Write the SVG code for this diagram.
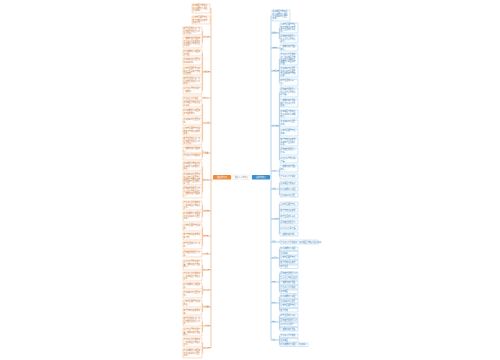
<svg xmlns="http://www.w3.org/2000/svg" width="500" height="360" viewBox="0 0 500 360">
<style>
.lb{fill:#fffdfb;stroke:#f2b98a;stroke-width:0.45}
.rb{fill:#fbfdff;stroke:#9ec9e8;stroke-width:0.45}
.lt{font-family:"Noto Sans CJK SC",sans-serif;font-size:1.85px;fill:#c8702e}
.rt{font-family:"Noto Sans CJK SC",sans-serif;font-size:1.85px;fill:#3a7db8}
.ll{font-family:"Noto Sans CJK SC",sans-serif;font-size:1.7px;fill:#c8702e}
.rl{font-family:"Noto Sans CJK SC",sans-serif;font-size:1.7px;fill:#3a7db8}
.lc{fill:none;stroke:#eea466;stroke-width:0.6}
.rc{fill:none;stroke:#7fb6de;stroke-width:0.6}
</style>
<rect width="500" height="360" fill="#ffffff"/>
<g id="connectors">
<path class="lc" d="M211 8.5V348"/>
<path class="lc" d="M210 8.5H211M210 20H211"/>
<path class="lc" d="M211 37H202.6M202.6 31V42.5"/>
<path class="lc" d="M211 72H202.6M202.6 53V90.5"/>
<path class="lc" d="M211 98H202"/>
<path class="lc" d="M211 123H202.6M202.6 104V141"/>
<path class="lc" d="M211 153H202.6M202.6 150V157"/>
<path class="lc" d="M213 180H202.6M202.6 166.5V192.5"/>
<path class="lc" d="M211 211H202.6M202.6 205.5V217"/>
<path class="lc" d="M211 236H202.6M202.6 227.5V245.5"/>
<path class="lc" d="M211 254H202"/>
<path class="lc" d="M211 270H202.6M202.6 265V276.5"/>
<path class="lc" d="M211 290H202.6M202.6 286V294.5"/>
<path class="lc" d="M211 307H202.6M202.6 303.5V312"/>
<path class="lc" d="M211 326H202.6M202.6 321.5V332"/>
<path class="lc" d="M211 348H202.6M202.6 342.5V353.5"/>
<path class="rc" d="M271 15.5V340"/>
<path class="rc" d="M270 177H271"/>
<path class="rc" d="M271 33H279.4M279.4 28V39"/>
<path class="rc" d="M271 48H280"/>
<path class="rc" d="M271 71H279.4M279.4 59V82.5"/>
<path class="rc" d="M271 126H279.4M279.4 92.5V160"/>
<path class="rc" d="M271 171H279.4M279.4 168.5V176.5"/>
<path class="rc" d="M271 189H279.4M279.4 183V195"/>
<path class="rc" d="M271 219H279.4M279.4 204V234"/>
<path class="rc" d="M271 242H280"/>
<path class="rc" d="M271 258H279.4M279.4 248.75V266.75"/>
<path class="rc" d="M271 282H279.4M279.4 273.75V291.75"/>
<path class="rc" d="M271 303H279.4M279.4 296.75V310.25"/>
<path class="rc" d="M271 322H279.4M279.4 315.75V329.25"/>
<path class="rc" d="M271 340H279.4M279.4 335.75V344.75"/>
<path d="M231 177.2H232M251 177.2H252" stroke="#cccccc" stroke-width="0.4"/>
</g>
<g id="root"><rect x="232" y="175" width="19" height="4.5" fill="#ffffff" stroke="#d6d6d6" stroke-width="0.3" rx="0.5"/><text x="241.5" y="178" text-anchor="middle" font-family="Noto Sans CJK SC,sans-serif" font-size="2" fill="#8a8a8a">温暖人心的文案</text></g>
<g id="left-main"><rect x="213" y="175" width="18" height="4.5" fill="#ee8a3b" rx="0.6"/><text x="222" y="178" text-anchor="middle" font-family="Noto Sans CJK SC,sans-serif" font-size="2" fill="#ffffff">温暖的句子</text></g>
<g id="right-main"><rect x="252" y="175" width="18" height="4.5" fill="#3d8ecc" rx="0.6"/><text x="261" y="178" text-anchor="middle" font-family="Noto Sans CJK SC,sans-serif" font-size="2" fill="#ffffff">治愈的文案</text></g>

<g id="l-labels">
<text class="ll" x="203.3" y="36.5">唯美短句</text>
<text class="ll" x="203.3" y="71.5">经典语录</text>
<text class="ll" x="203.3" y="97.5">短句子</text>
<text class="ll" x="203.3" y="122.5">心情说说</text>
<text class="ll" x="203.3" y="152.5">正能量</text>
<text class="ll" x="203.3" y="179.5">励志句子</text>
<text class="ll" x="203.3" y="210.5">温柔文案</text>
<text class="ll" x="203.3" y="235.5">朋友圈</text>
<text class="ll" x="203.3" y="253.5">小清新</text>
<text class="ll" x="203.3" y="269.5">晚安语录</text>
<text class="ll" x="203.3" y="289.5">早安心语</text>
<text class="ll" x="203.3" y="306.5">生活感悟</text>
<text class="ll" x="203.3" y="325.5">人生哲理</text>
<text class="ll" x="203.3" y="347.5">爱情语录</text>
</g>
<g id="r-labels">
<text class="rl" x="272.2" y="32.5">治愈句子</text>
<text class="rl" x="272.2" y="47.5">短文案</text>
<text class="rl" x="272.2" y="70.5">温暖语录</text>
<text class="rl" x="272.2" y="125.5">唯美文案</text>
<text class="rl" x="272.2" y="170.5">心语</text>
<text class="rl" x="272.2" y="188.5">说说</text>
<text class="rl" x="272.2" y="218.5">心情短语</text>
<text class="rl" x="272.2" y="241.5">其他</text>
<text class="rl" x="272.2" y="257.5">四字词</text>
<text class="rl" x="272.2" y="281.5">短句</text>
<text class="rl" x="272.2" y="302.5">好句</text>
<text class="rl" x="272.2" y="321.5">金句</text>
<text class="rl" x="272.2" y="339.5">结语</text>
</g>

<g id="l0a"><rect class="lb" x="192" y="4" width="18" height="9"/><text class="lt" x="192.6" y="6.2">春风拂面万物复苏<tspan x="192.6" dy="2.3">阳光明媚花开满园</tspan><tspan x="192.6" dy="2.3">岁月静好。</tspan></text></g>
<g id="l0b"><rect class="lb" x="192" y="16" width="18" height="8"/><text class="lt" x="192.6" y="18.2">心中有爱眼里有光<tspan x="192.6" dy="2.3">努力奔跑追逐梦想</tspan><tspan x="192.6" dy="2.3">未来可期。</tspan></text></g>
<g id="l1a"><rect class="lb" x="183" y="27" width="19" height="8"/><text class="lt" x="183.6" y="29.2">简单生活快乐每一天<tspan x="183.6" dy="2.3">愿你被世界温柔以待</tspan><tspan x="183.6" dy="2.3">平凡日子。</tspan></text></g>
<g id="l1b"><rect class="lb" x="183" y="37" width="19" height="11"/><text class="lt" x="183.6" y="39.2">一路繁花相伴温暖前<tspan x="183.6" dy="2.3">不忘初心方得始终如</tspan><tspan x="183.6" dy="2.3">春风拂面万物复苏生</tspan><tspan x="183.6" dy="2.3">机勃勃。</tspan></text></g>
<g id="l2a"><rect class="lb" x="183" y="50" width="19" height="6"/><text class="lt" x="183.6" y="52.2">阳光明媚花开满园芬<tspan x="183.6" dy="2.3">芳四溢。</tspan></text></g>
<g id="l2b"><rect class="lb" x="183" y="58" width="19" height="7"/><text class="lt" x="183.6" y="60.2">岁月静好时光温柔如<tspan x="183.6" dy="2.3">水静静流淌。</tspan></text></g>
<g id="l2c"><rect class="lb" x="183" y="67" width="19" height="8"/><text class="lt" x="183.6" y="69.2">心中有爱眼里有光向<tspan x="183.6" dy="2.3">前走不回头努力奔跑</tspan><tspan x="183.6" dy="2.3">追逐梦想。</tspan></text></g>
<g id="l2d"><rect class="lb" x="183" y="77" width="19" height="8"/><text class="lt" x="183.6" y="79.2">简单生活快乐每一天<tspan x="183.6" dy="2.3">愿你被世界温柔以待</tspan><tspan x="183.6" dy="2.3">着吧。</tspan></text></g>
<g id="l2e"><rect class="lb" x="183" y="87" width="19" height="7"/><text class="lt" x="183.6" y="89.2">平凡日子里的小确幸<tspan x="183.6" dy="2.3">一路繁花。</tspan></text></g>
<g id="l3a"><rect class="lb" x="183" y="96" width="19" height="4"/><text class="lt" x="183.6" y="98.6">不忘初心方得始终</text></g>
<g id="l4a"><rect class="lb" x="183" y="101" width="19" height="6"/><text class="lt" x="183.6" y="103.2">春风拂面万物复苏生<tspan x="183.6" dy="2.3">机勃勃。</tspan></text></g>
<g id="l4b"><rect class="lb" x="183" y="109" width="19" height="7"/><text class="lt" x="183.6" y="111.2">阳光明媚花开满园芬<tspan x="183.6" dy="2.3">芳四溢的季节。</tspan></text></g>
<g id="l4c"><rect class="lb" x="183" y="118" width="19" height="7"/><text class="lt" x="183.6" y="120.2">岁月静好时光温柔如<tspan x="183.6" dy="2.3">水。</tspan></text></g>
<g id="l4d"><rect class="lb" x="183" y="127" width="19" height="8"/><text class="lt" x="183.6" y="129.2">心中有爱眼里有光向<tspan x="183.6" dy="2.3">前努力奔跑追逐梦想</tspan><tspan x="183.6" dy="2.3">未来。</tspan></text></g>
<g id="l4e"><rect class="lb" x="183" y="137" width="19" height="8"/><text class="lt" x="183.6" y="139.2">简单生活快乐每一天<tspan x="183.6" dy="2.3">愿你被世界温柔以待</tspan><tspan x="183.6" dy="2.3">平凡日子。</tspan></text></g>
<g id="l5a"><rect class="lb" x="183" y="147" width="19" height="6"/><text class="lt" x="183.6" y="149.2">一路繁花相伴温暖前<tspan x="183.6" dy="2.3">行。</tspan></text></g>
<g id="l5b"><rect class="lb" x="183" y="154" width="19" height="6"/><text class="lt" x="183.6" y="156.2">不忘初心方得始终如<tspan x="183.6" dy="2.3">一。</tspan></text></g>
<g id="l6a"><rect class="lb" x="183" y="162" width="19" height="9"/><text class="lt" x="183.6" y="164.2">春风拂面万物复苏生<tspan x="183.6" dy="2.3">机勃勃阳光明媚花开</tspan><tspan x="183.6" dy="2.3">满园。</tspan></text></g>
<g id="l6b"><rect class="lb" x="183" y="173" width="19" height="12"/><text class="lt" x="183.6" y="175.2">岁月静好时光温柔如<tspan x="183.6" dy="2.3">水心中有爱眼里有光</tspan><tspan x="183.6" dy="2.3">向前努力奔跑追逐梦</tspan><tspan x="183.6" dy="2.3">想未来简单生活快乐</tspan><tspan x="183.6" dy="2.3">每一天。</tspan></text></g>
<g id="l6c"><rect class="lb" x="183" y="187" width="19" height="11"/><text class="lt" x="183.6" y="189.2">愿你被世界温柔以待<tspan x="183.6" dy="2.3">平凡日子里的小确幸</tspan><tspan x="183.6" dy="2.3">一路繁花相伴温暖前</tspan><tspan x="183.6" dy="2.3">行。</tspan></text></g>
<g id="l7a"><rect class="lb" x="183" y="201" width="19" height="9"/><text class="lt" x="183.6" y="203.2">不忘初心方得始终如<tspan x="183.6" dy="2.3">一春风拂面万物复苏</tspan><tspan x="183.6" dy="2.3">生机。</tspan></text></g>
<g id="l7b"><rect class="lb" x="183" y="212" width="19" height="10"/><text class="lt" x="183.6" y="214.2">阳光明媚花开满园芬<tspan x="183.6" dy="2.3">芳岁月静好时光温柔</tspan><tspan x="183.6" dy="2.3">如水。</tspan></text></g>
<g id="l8a"><rect class="lb" x="183" y="224" width="19" height="7"/><text class="lt" x="183.6" y="226.2">心中有爱眼里有光向<tspan x="183.6" dy="2.3">前。</tspan></text></g>
<g id="l8b"><rect class="lb" x="183" y="233" width="19" height="7"/><text class="lt" x="183.6" y="235.2">努力奔跑追逐梦想未<tspan x="183.6" dy="2.3">来可期。</tspan></text></g>
<g id="l8c"><rect class="lb" x="183" y="242" width="19" height="7"/><text class="lt" x="183.6" y="244.2">简单生活快乐每一天<tspan x="183.6" dy="2.3">呀。</tspan></text></g>
<g id="l9a"><rect class="lb" x="183" y="251" width="19" height="6"/><text class="lt" x="183.6" y="253.2">愿你被世界温柔以待<tspan x="183.6" dy="2.3">着。</tspan></text></g>
<g id="l10a"><rect class="lb" x="183" y="260" width="19" height="10"/><text class="lt" x="183.6" y="262.2">平凡日子里的小确幸<tspan x="183.6" dy="2.3">福一路繁花相伴温暖</tspan><tspan x="183.6" dy="2.3">前行。</tspan></text></g>
<g id="l10b"><rect class="lb" x="183" y="272" width="19" height="9"/><text class="lt" x="183.6" y="274.2">不忘初心方得始终如<tspan x="183.6" dy="2.3">一春风拂面万物复苏</tspan><tspan x="183.6" dy="2.3">生机。</tspan></text></g>
<g id="l11a"><rect class="lb" x="183" y="283" width="19" height="6"/><text class="lt" x="183.6" y="285.2">阳光明媚花开满园芬<tspan x="183.6" dy="2.3">芳。</tspan></text></g>
<g id="l11b"><rect class="lb" x="183" y="291" width="19" height="7"/><text class="lt" x="183.6" y="293.2">岁月静好时光温柔如<tspan x="183.6" dy="2.3">水。</tspan></text></g>
<g id="l12a"><rect class="lb" x="183" y="300" width="19" height="7"/><text class="lt" x="183.6" y="302.2">心中有爱眼里有光向<tspan x="183.6" dy="2.3">前走。</tspan></text></g>
<g id="l12b"><rect class="lb" x="183" y="309" width="19" height="6"/><text class="lt" x="183.6" y="311.2">努力奔跑追逐梦想未<tspan x="183.6" dy="2.3">来。</tspan></text></g>
<g id="l13a"><rect class="lb" x="183" y="317" width="19" height="9"/><text class="lt" x="183.6" y="319.2">简单生活快乐每一天<tspan x="183.6" dy="2.3">愿你被世界温柔以待</tspan><tspan x="183.6" dy="2.3">着。</tspan></text></g>
<g id="l13b"><rect class="lb" x="183" y="328" width="19" height="8"/><text class="lt" x="183.6" y="330.2">平凡日子里的小确幸<tspan x="183.6" dy="2.3">福一路繁花相伴温暖</tspan><tspan x="183.6" dy="2.3">前行。</tspan></text></g>
<g id="l14a"><rect class="lb" x="183" y="338" width="19" height="9"/><text class="lt" x="183.6" y="340.2">不忘初心方得始终如<tspan x="183.6" dy="2.3">一春风拂面万物复苏</tspan><tspan x="183.6" dy="2.3">生机。</tspan></text></g>
<g id="l14b"><rect class="lb" x="183" y="349" width="19" height="9"/><text class="lt" x="183.6" y="351.2">阳光明媚花开满园芬<tspan x="183.6" dy="2.3">芳岁月静好时光温柔</tspan><tspan x="183.6" dy="2.3">如水。</tspan></text></g>

<g id="r0a"><rect class="rb" x="272" y="10" width="18" height="11"/><text class="rt" x="272.6" y="12.2">春风拂面万物复苏<tspan x="272.6" dy="2.3">阳光明媚花开满园</tspan><tspan x="272.6" dy="2.3">岁月静好时光温柔</tspan><tspan x="272.6" dy="2.3">如水。</tspan></text></g>
<g id="r1a"><rect class="rb" x="280" y="23" width="18" height="10"/><text class="rt" x="280.6" y="25.2">心中有爱眼里有光<tspan x="280.6" dy="2.3">努力奔跑追逐梦想</tspan><tspan x="280.6" dy="2.3">简单生活快乐每天</tspan><tspan x="280.6" dy="2.3">呀。</tspan></text></g>
<g id="r1b"><rect class="rb" x="280" y="35" width="18" height="8"/><text class="rt" x="280.6" y="37.2">愿你被世界温柔以<tspan x="280.6" dy="2.3">待平凡日子里的小</tspan><tspan x="280.6" dy="2.3">确幸。</tspan></text></g>
<g id="r2a"><rect class="rb" x="280" y="45" width="18" height="6"/><text class="rt" x="280.6" y="47.2">一路繁花相伴温暖<tspan x="280.6" dy="2.3">前行。</tspan></text></g>
<g id="r3a"><rect class="rb" x="280" y="53" width="18" height="12"/><text class="rt" x="280.6" y="55.2">不忘初心方得始终<tspan x="280.6" dy="2.3">如一春风拂面万物</tspan><tspan x="280.6" dy="2.3">复苏生机勃勃阳光</tspan><tspan x="280.6" dy="2.3">明媚花开满园芬芳</tspan><tspan x="280.6" dy="2.3">四溢。</tspan></text></g>
<g id="r3b"><rect class="rb" x="280" y="67" width="18" height="10"/><text class="rt" x="280.6" y="69.2">岁月静好时光温柔<tspan x="280.6" dy="2.3">如水心中有爱眼里</tspan><tspan x="280.6" dy="2.3">有光向前努力奔跑</tspan><tspan x="280.6" dy="2.3">追梦。</tspan></text></g>
<g id="r3c"><rect class="rb" x="280" y="79" width="18" height="7"/><text class="rt" x="280.6" y="81.2">简单生活快乐每一<tspan x="280.6" dy="2.3">天。</tspan></text></g>
<g id="r4a"><rect class="rb" x="280" y="88" width="18" height="9"/><text class="rt" x="280.6" y="90.2">愿你被世界温柔以<tspan x="280.6" dy="2.3">待平凡日子里的小</tspan><tspan x="280.6" dy="2.3">确幸福。</tspan></text></g>
<g id="r4b"><rect class="rb" x="280" y="99" width="18" height="8"/><text class="rt" x="280.6" y="101.2">一路繁花相伴温暖<tspan x="280.6" dy="2.3">前行不忘初心方得</tspan><tspan x="280.6" dy="2.3">始终。</tspan></text></g>
<g id="r4c"><rect class="rb" x="280" y="110" width="18" height="8"/><text class="rt" x="280.6" y="112.2">春风拂面万物复苏<tspan x="280.6" dy="2.3">生机勃勃阳光明媚</tspan><tspan x="280.6" dy="2.3">花开。</tspan></text></g>
<g id="r4d"><rect class="rb" x="280" y="120" width="18" height="7"/><text class="rt" x="280.6" y="122.2">岁月静好时光温柔<tspan x="280.6" dy="2.3">如水。</tspan></text></g>
<g id="r4e"><rect class="rb" x="280" y="129" width="18" height="7"/><text class="rt" x="280.6" y="131.2">心中有爱眼里有光<tspan x="280.6" dy="2.3">向前。</tspan></text></g>
<g id="r4f"><rect class="rb" x="280" y="138" width="18" height="8"/><text class="rt" x="280.6" y="140.2">努力奔跑追逐梦想<tspan x="280.6" dy="2.3">未来简单生活快乐</tspan><tspan x="280.6" dy="2.3">每天。</tspan></text></g>
<g id="r4g"><rect class="rb" x="280" y="148" width="18" height="7"/><text class="rt" x="280.6" y="150.2">愿你被世界温柔以<tspan x="280.6" dy="2.3">待着。</tspan></text></g>
<g id="r4h"><rect class="rb" x="280" y="157" width="18" height="6"/><text class="rt" x="280.6" y="159.2">平凡日子里的小确<tspan x="280.6" dy="2.3">幸福。</tspan></text></g>
<g id="r5a"><rect class="rb" x="280" y="165" width="18" height="7"/><text class="rt" x="280.6" y="167.2">一路繁花相伴温暖<tspan x="280.6" dy="2.3">前行。</tspan></text></g>
<g id="r5b"><rect class="rb" x="280" y="174" width="18" height="5"/><text class="rt" x="280.6" y="177.1">不忘初心方得始终</text></g>
<g id="r6a"><rect class="rb" x="280" y="181" width="18" height="4"/><text class="rt" x="280.6" y="183.6">春风拂面万物复苏</text></g>
<g id="r6b"><rect class="rb" x="280" y="187" width="18" height="4"/><text class="rt" x="280.6" y="189.6">阳光明媚花开满园</text></g>
<g id="r6c"><rect class="rb" x="280" y="193" width="18" height="4"/><text class="rt" x="280.6" y="195.6">岁月静好时光温柔</text></g>
<g id="r7a"><rect class="rb" x="280" y="202" width="18" height="4"/><text class="rt" x="280.6" y="204.6">心中有爱眼里有光</text></g>
<g id="r7b"><rect class="rb" x="280" y="208" width="18" height="4"/><text class="rt" x="280.6" y="210.6">努力奔跑追逐梦想</text></g>
<g id="r7c"><rect class="rb" x="280" y="214" width="18" height="4"/><text class="rt" x="280.6" y="216.6">简单生活快乐每天</text></g>
<g id="r7d"><rect class="rb" x="280" y="220" width="18" height="4"/><text class="rt" x="280.6" y="222.6">愿你被世界温柔待</text></g>
<g id="r7e"><rect class="rb" x="280" y="226" width="18" height="4"/><text class="rt" x="280.6" y="228.6">平凡日子小确幸福</text></g>
<g id="r7f"><rect class="rb" x="280" y="232" width="18" height="4"/><text class="rt" x="280.6" y="234.6">一路繁花相伴前行</text></g>
<g id="r8a"><rect class="rb" x="280" y="240" width="38" height="4"/><text class="rt" x="280.6" y="242.6">不忘初心方得始终如一春风拂面万物复苏生机勃勃</text></g>
<g id="r9a"><rect class="rb" x="280" y="247" width="18" height="3.5"/><text class="rt" x="280.6" y="249.4">阳光明媚花开满园</text></g>
<g id="r9b"><rect class="rb" x="280" y="251.5" width="18" height="3.5"/><text class="rt" x="280.6" y="253.9">岁月静好</text></g>
<g id="r9c"><rect class="rb" x="280" y="256" width="18" height="3.5"/><text class="rt" x="280.6" y="258.4">心中有爱眼里有光</text></g>
<g id="r9d"><rect class="rb" x="280" y="260.5" width="18" height="3.5"/><text class="rt" x="280.6" y="262.9">努力奔跑追逐梦想</text></g>
<g id="r9e"><rect class="rb" x="280" y="265" width="18" height="3.5"/><text class="rt" x="280.6" y="267.4">简单生活</text></g>
<g id="r10a"><rect class="rb" x="280" y="272" width="18" height="3.5"/><text class="rt" x="280.6" y="274.4">愿你被世界温柔以待</text></g>
<g id="r10b"><rect class="rb" x="280" y="276.5" width="18" height="3.5"/><text class="rt" x="280.6" y="278.9">平凡日子里的小确幸</text></g>
<g id="r10c"><rect class="rb" x="280" y="281" width="18" height="3.5"/><text class="rt" x="280.6" y="283.4">一路繁花相伴温暖</text></g>
<g id="r10d"><rect class="rb" x="280" y="285.5" width="18" height="3.5"/><text class="rt" x="280.6" y="287.9">不忘初心方得始终</text></g>
<g id="r10e"><rect class="rb" x="280" y="290" width="18" height="3.5"/><text class="rt" x="280.6" y="292.4">春风拂面</text></g>
<g id="r11a"><rect class="rb" x="280" y="295" width="18" height="3.5"/><text class="rt" x="280.6" y="297.4">阳光明媚花开满园</text></g>
<g id="r11b"><rect class="rb" x="280" y="299.5" width="18" height="3.5"/><text class="rt" x="280.6" y="301.9">岁月静好时光温柔</text></g>
<g id="r11c"><rect class="rb" x="280" y="304" width="18" height="3.5"/><text class="rt" x="280.6" y="306.4">心中有爱眼里有光</text></g>
<g id="r11d"><rect class="rb" x="280" y="308.5" width="18" height="3.5"/><text class="rt" x="280.6" y="310.9">努力奔跑</text></g>
<g id="r12a"><rect class="rb" x="280" y="314" width="18" height="3.5"/><text class="rt" x="280.6" y="316.4">简单生活快乐每天</text></g>
<g id="r12b"><rect class="rb" x="280" y="318.5" width="18" height="3.5"/><text class="rt" x="280.6" y="320.9">愿你被世界温柔以待</text></g>
<g id="r12c"><rect class="rb" x="280" y="323" width="18" height="3.5"/><text class="rt" x="280.6" y="325.4">平凡日子小确幸</text></g>
<g id="r12d"><rect class="rb" x="280" y="327.5" width="18" height="3.5"/><text class="rt" x="280.6" y="329.9">一路繁花相伴温暖</text></g>
<g id="r13a"><rect class="rb" x="280" y="334" width="18" height="3.5"/><text class="rt" x="280.6" y="336.4">不忘初心方得始终</text></g>
<g id="r13b"><rect class="rb" x="280" y="338.5" width="18" height="3.5"/><text class="rt" x="280.6" y="340.9">春风拂面</text></g>
<g id="r13c"><rect class="rb" x="280" y="343" width="28" height="3.5"/><text class="rt" x="280.6" y="345.4">阳光明媚花开满园——岁月静好</text></g>
</svg>
